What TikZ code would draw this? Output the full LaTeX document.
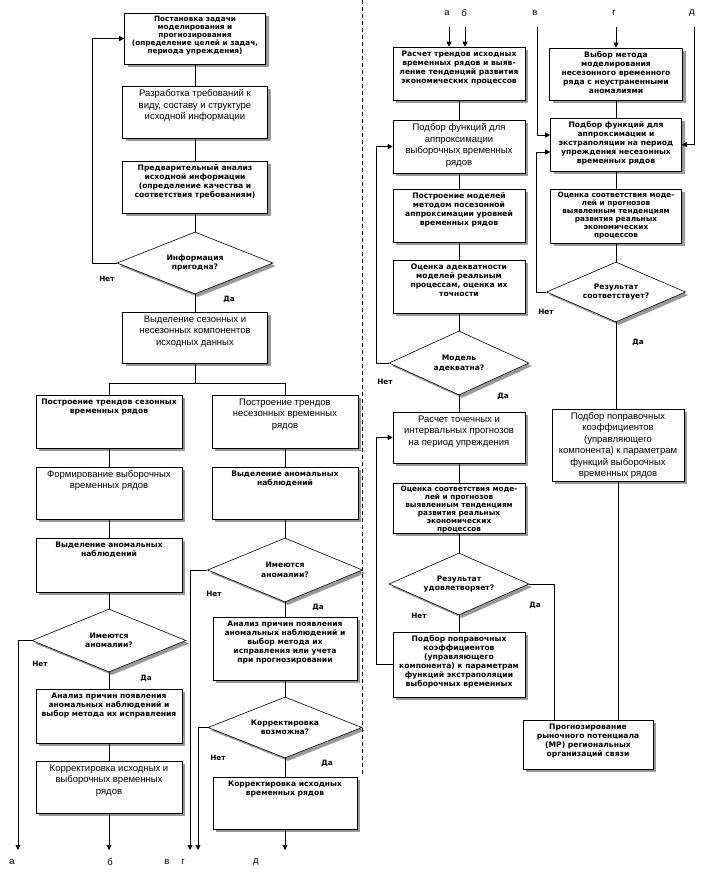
\documentclass[tikz,border=0pt]{standalone}
\usepackage{fontspec}
\setmainfont{Liberation Sans}
\newfontfamily\wideface{DejaVu Sans}
\usetikzlibrary{shapes.geometric, arrows.meta, shadows}
\newcommand{\boxtext}[3]{\parbox[c][#2pt][t]{#1pt}{\centering\vspace*{3.5pt}#3\par}}
\tikzset{
>={Triangle[length=5pt, width=5pt]}, % filled arrow heads
block/.style={draw, fill=white, inner sep=0pt, drop shadow={shadow xshift=3pt, shadow yshift=-3pt, fill=gray!80, opacity=1}}, % white block with a grey shadow
box/.style={block, font=\fontsize{9.5}{11.5}\selectfont}, % plain text
boldbox/.style={block, font=\wideface\fontsize{7.6}{9}\selectfont\bfseries}, % bold text
tightbox/.style={block, font=\wideface\fontsize{7.3}{8}\selectfont\bfseries}, % bold text, many lines
decision/.style={block, diamond, aspect=2.5, align=center, font=\wideface\fontsize{7.6}{9.5}\selectfont\bfseries}, % questions
answer/.style={font=\wideface\fontsize{7.3}{9}\selectfont\bfseries}, % Да / Нет
letter/.style={font=\fontsize{9.5}{11}\selectfont}, % а ... д
}

\begin{document}
\begin{tikzpicture}[x=1pt, y=-1pt, line width=0.6pt]
  \useasboundingbox (0,0) rectangle (712,876);

  % Left part: preparing the data
  \node[tightbox] (b1) at (195,38.5) {\boxtext{141}{51}{Постановка задачи\\моделирования и\\прогнозирования\\(определение целей и задач,\\периода упреждения)}};
  \node[box] (b2) at (195,112) {\boxtext{145}{52}{Разработка требований к\\виду, составу и структуре\\исходной информации}};
  \node[boldbox] (b3) at (195,187) {\boxtext{145}{52}{Предварительный анализ\\исходной информации\\(определение качества и\\соответствия требованиям)}};
  \node[decision, minimum width=156pt, minimum height=62pt] (d1) at (195,263) {Информация\\пригодна?};
  \node[box] (b4) at (195,337.5) {\boxtext{145}{51}{Выделение сезонных и\\несезонных компонентов\\исходных данных}};

  % Seasonal series
  \node[boldbox] (b5) at (109,421.5) {\boxtext{146}{53}{Построение трендов сезонных\\временных рядов}};
  \node[box] (b6) at (109,493) {\boxtext{146}{52}{Формирование выборочных\\временных рядов}};
  \node[boldbox] (b7) at (109,565) {\boxtext{146}{54}{Выделение аномальных\\наблюдений}};
  \node[decision, minimum width=154pt, minimum height=63pt] (d2) at (109,640.5) {Имеются\\аномалии?};
  \node[boldbox] (b8) at (109,716) {\boxtext{146}{54}{Анализ причин появления\\аномальных наблюдений и\\выбор метода их исправления}};
  \node[box] (b9) at (109,787) {\boxtext{146}{52}{Корректировка исходных и\\выборочных временных\\рядов}};

  % Non-seasonal series
  \node[box] (b10) at (285,421.5) {\boxtext{146}{53}{Построение трендов\\несезонных временных\\рядов}};
  \node[boldbox] (b11) at (285,493) {\boxtext{146}{52}{Выделение аномальных\\наблюдений}};
  \node[decision, minimum width=155pt, minimum height=64pt] (d3) at (285,570) {Имеются\\аномалии?};
  \node[boldbox] (b12) at (285,648.5) {\boxtext{144}{63}{Анализ причин появления\\аномальных наблюдений и\\выбор метода их\\исправления или учета\\при прогнозировании}};
  \node[decision, minimum width=154pt, minimum height=61pt] (d4) at (285,727.5) {Корректировка\\возможна?};
  \node[boldbox] (b13) at (285,803) {\boxtext{144}{52}{Корректировка исходных\\временных рядов}};

  % Right part: models and forecasts
  \node[boldbox] (R1) at (459,73.5) {\boxtext{132}{53}{Расчет трендов исходных\\временных рядов и выяв-\\ление тенденций развития\\экономических процессов}};
  \node[box] (R2) at (459,146.5) {\boxtext{132}{53}{Подбор функций для\\аппроксимации\\выборочных временных\\рядов}};
  \node[boldbox] (R3) at (459,215.5) {\boxtext{132}{53}{Построение моделей\\методом посезонной\\аппроксимации уровней\\временных рядов}};
  \node[boldbox] (R4) at (459,286.5) {\boxtext{132}{53}{Оценка адекватности\\моделей реальным\\процессам, оценка их\\точности}};
  \node[decision, minimum width=140pt, minimum height=64pt] (dR1) at (459,363) {Модель\\адекватна?};
  \node[box] (R5) at (459,437.5) {\boxtext{132}{51}{Расчет точечных и\\интервальных прогнозов\\на период упреждения}};
  \node[tightbox] (R6) at (459,508) {\boxtext{132}{50}{Оценка соответствия моде-\\лей и прогнозов\\выявленным тенденциям\\развития реальных\\экономических\\процессов}};
  \node[decision, minimum width=140pt, minimum height=62pt] (dR2) at (459,584) {Результат\\удовлетворяет?};
  \node[boldbox] (R7) at (459,664.5) {\boxtext{132}{65}{Подбор поправочных\\коэффициентов\\(управляющего\\компонента) к параметрам\\функций экстраполяции\\выборочных временных}};

  \node[boldbox] (R8) at (616,74) {\boxtext{133}{52}{Выбор метода\\моделирования\\несезонного временного\\ряда с неустраненными\\аномалиями}};
  \node[boldbox] (R9) at (616,144.5) {\boxtext{131}{53}{Подбор функций для\\аппроксимации и\\экстраполяции на период\\упреждения несезонных\\временных рядов}};
  \node[tightbox] (R10) at (616,216) {\boxtext{131}{54}{Оценка соответствия моде-\\лей и прогнозов\\выявленным тенденциям\\развития реальных\\экономических\\процессов}};
  \node[decision, minimum width=139pt, minimum height=60pt] (dR3) at (616,292) {Результат\\соответствует?};
  \node[box] (R11) at (618,445) {\boxtext{132}{72}{Подбор поправочных\\коэффициентов\\(управляющего\\компонента) к параметрам\\функций выборочных\\временных рядов}};
  \node[boldbox] (R12) at (588,744.5) {\boxtext{130}{49}{Прогнозирование\\рыночного потенциала\\(МР) региональных\\организаций связи}};

  % Answers
  \node[answer] (no1) at (107,279) {Нет};
  \node[answer] (yes1) at (229,299) {Да};
  \node[answer] (no2) at (40,664) {Нет};
  \node[answer] (yes2) at (146,678) {Да};
  \node[answer] (no3) at (214,594) {Нет};
  \node[answer] (yes3) at (318,607) {Да};
  \node[answer] (no4) at (218,758) {Нет};
  \node[answer] (yes4) at (327,763) {Да};
  \node[answer] (no5) at (385,382) {Нет};
  \node[answer] (yes5) at (503,396) {Да};
  \node[answer] (no6) at (419,616) {Нет};
  \node[answer] (yes6) at (535,605) {Да};
  \node[answer] (no7) at (546,312) {Нет};
  \node[answer] (yes7) at (638,342) {Да};

  % Links between the two parts
  \coordinate (outa) at (18,850);
  \coordinate (outv) at (190,850);
  \coordinate (outg) at (198,850);
  \coordinate (ina) at (449,27);
  \coordinate (inb) at (465,27);
  \coordinate (inv) at (537,27);
  \coordinate (ing) at (616,27);
  \coordinate (ind) at (694,27);
  \node[letter] (la) at (12,862) {а};
  \node[letter] (lb) at (110,862) {б};
  \node[letter] (lv) at (167,862) {в};
  \node[letter] (lg) at (183,862) {г};
  \node[letter] (ld) at (256,862) {д};
  \node[letter] (ta) at (447,13) {а};
  \node[letter] (tb) at (464,13) {б};
  \node[letter] (tv) at (535,13) {в};
  \node[letter] (tg) at (614,13) {г};
  \node[letter] (td) at (692,13) {д};

  % Connectors, left part
  \draw (b1) -- (b2);
  \draw (b2) -- (b3);
  \draw (b3) -- (d1);
  \draw (d1) -- (b4);
  \draw[->] (d1.west) -- ++(-24,0) |- (b1.west);
  \draw (b4.south) -- ++(0,20) -| (b5.north);
  \draw (b4.south) ++(0,20) -| (b10.north);
  \draw (b5) -- (b6);
  \draw (b6) -- (b7);
  \draw (b7) -- (d2);
  \draw (d2) -- (b8);
  \draw (b8) -- (b9);
  \draw[->] (d2.west) -| (outa);
  \draw[->] (b9) -- (b9 |- outa);
  \draw (b10) -- (b11);
  \draw (b11) -- (d3);
  \draw (d3) -- (b12);
  \draw (b12) -- (d4);
  \draw (d4) -- (b13);
  \draw[->] (d3.west) -| (outv);
  \draw[->] (d4.west) -| (outg);
  \draw[->] (b13) -- (b13 |- outa);
  \draw[dash pattern=on 4pt off 3pt] (362,0) -- (362,775);

  % Connectors, right part
  \draw[->] (ina) -- (ina |- R1.north);
  \draw[->] (inb) -- (inb |- R1.north);
  \draw (R1) -- (R2);
  \draw (R2) -- (R3);
  \draw (R3) -- (R4);
  \draw (R4) -- (dR1);
  \draw (dR1) -- (R5);
  \draw (R5) -- (R6);
  \draw (R6) -- (dR2);
  \draw (dR2) -- (R7);
  \draw[->] (dR1.west) -- ++(-12,0) |- (R2.west);
  \draw[->] (R7.west) -- ++(-16,0) |- (R5.west);
  \draw (dR2.east) -| ([xshift=32pt]R12.north west);
  \draw[->] (inv) |- ([yshift=9.5pt]R9.west);
  \draw[->] (ing) -- (ing |- R8.north);
  \draw[->] (ind) |- (R9.east);
  \draw (R8) -- (R9);
  \draw (R9) -- (R10);
  \draw (R10) -- (dR3);
  \draw[->] (dR3.west) -- ++(-9.5,0) |- ([yshift=-7.5pt]R9.west);
  \draw (dR3) -- (dR3 |- R11.north);
  \draw (R11) -- (R11 |- R12.north);
\end{tikzpicture}
\end{document}
